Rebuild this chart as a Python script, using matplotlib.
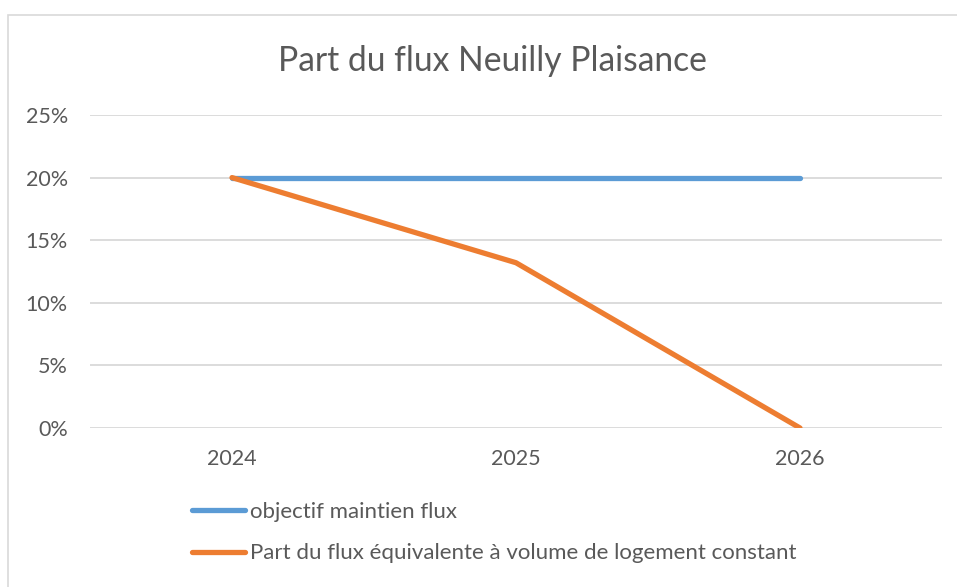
"""Part du flux Neuilly Plaisance - Excel-style line chart."""

import matplotlib.pyplot as plt
from matplotlib.lines import Line2D
from matplotlib.patches import Rectangle
from matplotlib.ticker import PercentFormatter

YEARS = ["2024", "2025", "2026"]
OBJECTIF = [20.0, 20.0, 20.0]
PART_CONSTANT = [20.0, 13.2, 0.0]
LABELS = ["objectif maintien flux",
          "Part du flux équivalente à volume de logement constant"]

BLUE = "#5B9BD5"
ORANGE = "#ED7D31"
TEXT = "#595959"
GRID = "#D9D9D9"

plt.rcParams["font.family"] = ["Lato", "DejaVu Sans"]

fig = plt.figure(figsize=(9.57, 5.87), dpi=100)
fig.patch.set_facecolor("white")

# chart frame
fig.patches.append(Rectangle((8 / 957, -0.01), 1.0, 1 - 15 / 587 + 0.01,
                             transform=fig.transFigure, fill=False,
                             edgecolor="#D9D9D9", linewidth=1.2))

ax = fig.add_axes([90 / 957, 1 - 428 / 587, (942 - 90) / 957, (428 - 115) / 587])
x = range(len(YEARS))
ax.plot(x, OBJECTIF, color=BLUE, linewidth=3.8, solid_capstyle="round", zorder=3)
ax.plot(x, PART_CONSTANT, color=ORANGE, linewidth=3.8, solid_capstyle="round",
        solid_joinstyle="round", zorder=4)

ax.set_xlim(-0.5, len(YEARS) - 0.5)
ax.set_ylim(0, 25)
ax.set_yticks([0, 5, 10, 15, 20, 25])
ax.yaxis.set_major_formatter(PercentFormatter(decimals=0))
ax.set_xticks(list(x))
ax.set_xticklabels(YEARS)
ax.tick_params(length=0, labelsize=15.5, labelcolor=TEXT)
ax.tick_params(axis="y", pad=16)
ax.tick_params(axis="x", pad=15)
ax.grid(axis="y", color=GRID, linewidth=1.3)
ax.set_axisbelow(True)
for s in ax.spines.values():
    s.set_visible(False)

fig.text(492 / 957, 1 - 61 / 587, "Part du flux Neuilly Plaisance", ha="center",
         va="center", fontsize=24.2, color=TEXT)

handles = [Line2D([], [], color=BLUE, linewidth=3.8, solid_capstyle="round"),
           Line2D([], [], color=ORANGE, linewidth=3.8, solid_capstyle="round")]
fig.legend(handles, LABELS, loc="center left",
           bbox_to_anchor=(192 / 957, 1 - 532.5 / 587), frameon=False,
           fontsize=16, labelcolor=TEXT, borderpad=0, borderaxespad=0,
           handlelength=2.4, handletextpad=0.22, labelspacing=0.98)

fig.savefig("out.png", dpi=100)
